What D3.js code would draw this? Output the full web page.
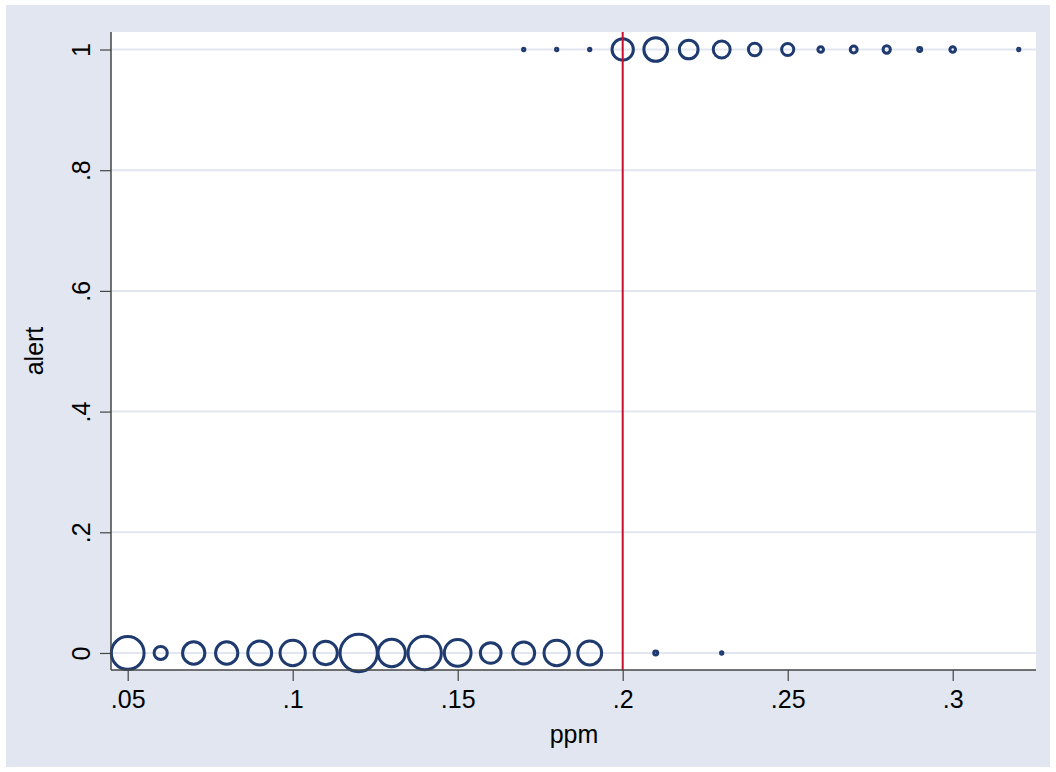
<!DOCTYPE html>
<html>
<head>
<meta charset="utf-8">
<script src="https://cdn.jsdelivr.net/npm/d3@7"></script>
<style>
  html, body { margin: 0; padding: 0; background: #ffffff; }
  svg { display: block; }
  text { font-family: "Liberation Sans", Arial, sans-serif; fill: #000; }
</style>
</head>
<body>
<svg id="chart" width="1056" height="772"></svg>
<script>
// ---- data ----
const ppmAlert0   = [0.05, 0.06, 0.07, 0.08, 0.09, 0.10, 0.11, 0.12, 0.13, 0.14, 0.15, 0.16, 0.17, 0.18, 0.19, 0.21, 0.23];
const countAlert0 = [203, 33, 94, 94, 108, 121, 103, 263, 141, 210, 135, 81, 91, 121, 108, 3, 1];
const ppmAlert1   = [0.17, 0.18, 0.19, 0.20, 0.21, 0.22, 0.23, 0.24, 0.25, 0.26, 0.27, 0.28, 0.29, 0.30, 0.32];
const countAlert1 = [1, 1, 1, 86, 106, 66, 54, 30, 28, 6, 9, 10, 3, 6, 1];
const xTicks = [0.05, 0.10, 0.15, 0.20, 0.25, 0.30];
const yTicks = [0, 0.2, 0.4, 0.6, 0.8, 1];
const threshold = 0.2;
const xTitle = "ppm";
const yTitle = "alert";

const points = [
  ...ppmAlert0.map((p, i) => ({ ppm: p, alert: 0, n: countAlert0[i] })),
  ...ppmAlert1.map((p, i) => ({ ppm: p, alert: 1, n: countAlert1[i] }))
];

// ---- layout ----
const W = 1056, H = 772;
const plot = { left: 111, right: 1036, top: 32, bottom: 670 };
const svg = d3.select("#chart");

svg.append("rect").attr("x", 0).attr("y", 0).attr("width", W).attr("height", H).attr("fill", "#ffffff");
svg.append("rect").attr("x", 6).attr("y", 5).attr("width", W - 12).attr("height", H - 10).attr("fill", "#e1e6f0");
svg.append("rect").attr("x", plot.left).attr("y", plot.top)
  .attr("width", plot.right - plot.left).attr("height", plot.bottom - plot.top).attr("fill", "#ffffff");

const x = d3.scaleLinear().domain([0.04494, 0.32524]).range([plot.left, plot.right]);
const y = d3.scaleLinear().domain([-0.0282, 1.029]).range([plot.bottom, plot.top]);
const maxN = d3.max(points, d => d.n);
const r = d3.scaleSqrt().domain([0, maxN]).range([0, 1.15 * Math.sqrt(maxN)]);

const fmt = v => (v === 0 ? "0" : v === 1 ? "1" : d3.format(".2~f")(v).replace(/^0\./, "."));

// gridlines
svg.append("g").selectAll("line").data(yTicks).join("line")
  .attr("x1", plot.left).attr("x2", plot.right)
  .attr("y1", d => y(d)).attr("y2", d => y(d))
  .attr("stroke", "#e1e6f0").attr("stroke-width", 2);

// markers
svg.append("g").selectAll("circle").data(points).join("circle")
  .attr("cx", d => x(d.ppm)).attr("cy", d => y(d.alert)).attr("r", d => r(d.n))
  .attr("fill", "none").attr("stroke", "#1e3a6e").attr("stroke-width", 3);

// vertical threshold line
svg.append("line")
  .attr("x1", x(threshold)).attr("x2", x(threshold))
  .attr("y1", plot.top).attr("y2", plot.bottom)
  .attr("stroke", "#c8102e").attr("stroke-width", 2);

// axes
const xAxis = d3.axisBottom(x).tickValues(xTicks).tickFormat(fmt).tickSizeInner(11).tickSizeOuter(0).tickPadding(9);
const gx = svg.append("g").attr("transform", `translate(0,${plot.bottom})`).call(xAxis);
gx.select(".domain").attr("stroke", "#444").attr("stroke-width", 1.5)
  .attr("d", `M${plot.left},0H${plot.right}`);
gx.selectAll(".tick line").attr("stroke", "#444").attr("stroke-width", 1.2);
gx.selectAll(".tick text").attr("font-size", 25).attr("font-family", "Liberation Sans, Arial, sans-serif").attr("fill", "#000");

const yAxis = d3.axisLeft(y).tickValues(yTicks).tickFormat(fmt).tickSizeInner(11).tickSizeOuter(0).tickPadding(8);
const gy = svg.append("g").attr("transform", `translate(${plot.left},0)`).call(yAxis);
gy.select(".domain").attr("stroke", "#444").attr("stroke-width", 1.5)
  .attr("d", `M0,${plot.top}V${plot.bottom}`);
gy.selectAll(".tick line").attr("stroke", "#444").attr("stroke-width", 1.2);
gy.selectAll(".tick text")
  .attr("font-size", 25).attr("font-family", "Liberation Sans, Arial, sans-serif").attr("fill", "#000")
  .attr("x", null).attr("dy", null)
  .attr("text-anchor", "middle")
  .attr("transform", "translate(-21,0) rotate(-90)");

// axis titles
svg.append("text").attr("x", (plot.left + plot.right) / 2 + 0.5).attr("y", 743)
  .attr("text-anchor", "middle").attr("font-size", 25).text(xTitle);
svg.append("text").attr("transform", `translate(43,${(plot.top + plot.bottom) / 2}) rotate(-90)`)
  .attr("text-anchor", "middle").attr("font-size", 25).text(yTitle);
</script>
</body>
</html>
